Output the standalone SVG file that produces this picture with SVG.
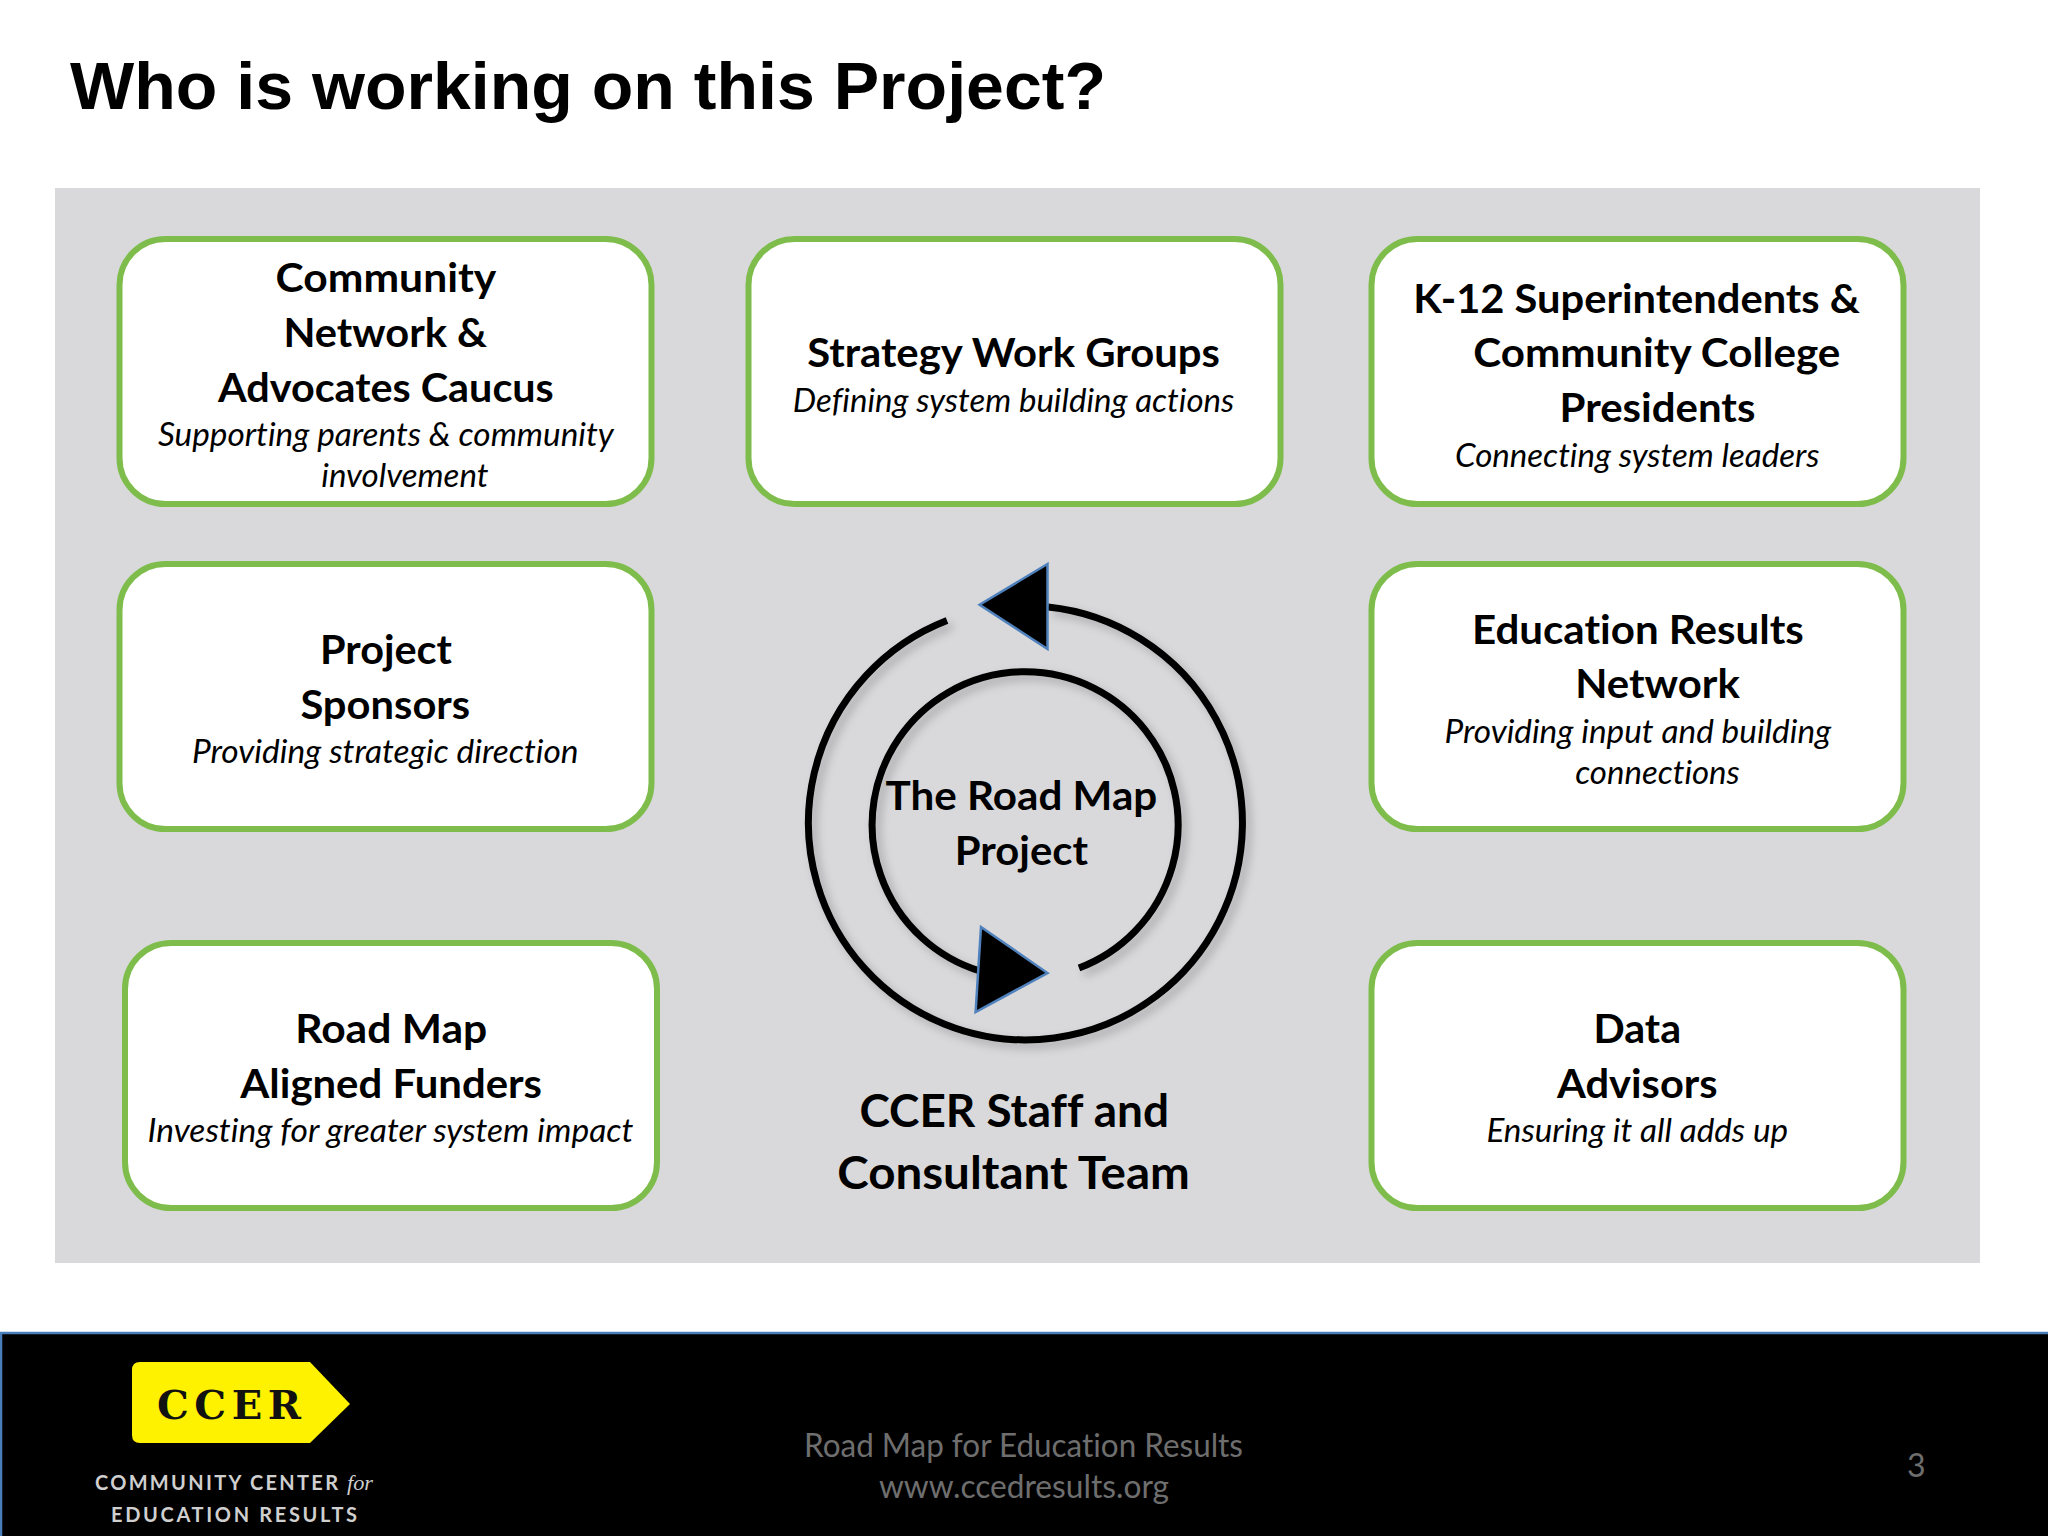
<svg xmlns="http://www.w3.org/2000/svg" width="2048" height="1536" viewBox="0 0 2048 1536">
<defs>
<filter id="soft" x="-10%" y="-10%" width="125%" height="125%"><feDropShadow dx="5" dy="5" stdDeviation="5" flood-color="#000" flood-opacity="0.22"/></filter>
</defs>
<style>
text{font-variant-ligatures:none}
.box{fill:#fff;stroke:#7ebd4b;stroke-width:6}
.b{font-family:"Lato","Liberation Sans",sans-serif;font-weight:700;font-size:40px;fill:#000}
.big{font-size:46px}
.i{font-family:"Lato","Liberation Sans",sans-serif;font-style:italic;font-size:32px;fill:#000}
.arc{fill:none;stroke:#000;stroke-width:7}
.tri{fill:#000;stroke:#4f81bd;stroke-width:2.5;stroke-linejoin:miter}
.foot{font-family:"Lato","Liberation Sans",sans-serif;font-size:32px;fill:#6e6e6e}
.logo{font-family:"Lato","Liberation Sans",sans-serif;font-weight:700;font-size:20px;fill:#cfcfcf}
</style>
<rect width="2048" height="1536" fill="#fff"/>
<text x="70" y="109" textLength="1036" lengthAdjust="spacingAndGlyphs" font-family="Liberation Sans, Arial, sans-serif" font-weight="700" font-size="67" fill="#000">Who is working on this Project?</text>
<rect id="panel" x="55" y="188" width="1925" height="1075" fill="#d9d9dc"/>

<g id="node-community">
<rect class="box" x="119.5" y="239" width="532" height="265" rx="46"/>
<text class="b" x="275.6" y="292" textLength="220.7" lengthAdjust="spacingAndGlyphs">Community</text>
<text class="b" x="283.4" y="346.8" textLength="203.8" lengthAdjust="spacingAndGlyphs">Network &amp;</text>
<text class="b" x="218.1" y="401.6" textLength="335.7" lengthAdjust="spacingAndGlyphs">Advocates Caucus</text>
<text class="i" x="158" y="446.4" textLength="455.8" lengthAdjust="spacingAndGlyphs">Supporting parents &amp; community</text>
<text class="i" x="321.3" y="487.2" textLength="167.2" lengthAdjust="spacingAndGlyphs">involvement</text>
</g>
<g id="node-strategy">
<rect class="box" x="748.5" y="239" width="532" height="265" rx="46"/>
<text class="b" x="807.2" y="367.3" textLength="412.7" lengthAdjust="spacingAndGlyphs">Strategy Work Groups</text>
<text class="i" x="792.8" y="412.4" textLength="441.5" lengthAdjust="spacingAndGlyphs">Defining system building actions</text>
</g>
<g id="node-k12">
<rect class="box" x="1371.5" y="239" width="532" height="265" rx="46"/>
<text class="b" x="1413.2" y="312.5" textLength="446.7" lengthAdjust="spacingAndGlyphs">K-12 Superintendents &amp;</text>
<text class="b" x="1473.3" y="367.3" textLength="367" lengthAdjust="spacingAndGlyphs">Community College</text>
<text class="b" x="1559.5" y="422.2" textLength="195.9" lengthAdjust="spacingAndGlyphs">Presidents</text>
<text class="i" x="1455" y="467" textLength="364.4" lengthAdjust="spacingAndGlyphs">Connecting system leaders</text>
</g>
<g id="node-sponsors">
<rect class="box" x="119.5" y="564" width="532" height="265" rx="46"/>
<text class="b" x="320" y="664" textLength="131.9" lengthAdjust="spacingAndGlyphs">Project</text>
<text class="b" x="300.4" y="718.7" textLength="169.8" lengthAdjust="spacingAndGlyphs">Sponsors</text>
<text class="i" x="192" y="763.3" textLength="386.6" lengthAdjust="spacingAndGlyphs">Providing strategic direction</text>
</g>
<g id="node-network">
<rect class="box" x="1371.5" y="564" width="532" height="265" rx="46"/>
<text class="b" x="1472" y="643.5" textLength="331.8" lengthAdjust="spacingAndGlyphs">Education Results</text>
<text class="b" x="1575.2" y="698" textLength="164.6" lengthAdjust="spacingAndGlyphs">Network</text>
<text class="i" x="1444.6" y="743.2" textLength="386.6" lengthAdjust="spacingAndGlyphs">Providing input and building</text>
<text class="i" x="1575.2" y="783.7" textLength="164.6" lengthAdjust="spacingAndGlyphs">connections</text>
</g>
<g id="node-funders">
<rect class="box" x="125" y="943" width="532" height="265" rx="46"/>
<text class="b" x="295.2" y="1043.2" textLength="192" lengthAdjust="spacingAndGlyphs">Road Map</text>
<text class="b" x="240.3" y="1098" textLength="301.7" lengthAdjust="spacingAndGlyphs">Aligned Funders</text>
<text class="i" x="147.6" y="1141.5" textLength="485.9" lengthAdjust="spacingAndGlyphs">Investing for greater system impact</text>
</g>
<g id="node-data">
<rect class="box" x="1371.5" y="943" width="532" height="265" rx="46"/>
<text class="b" x="1593.5" y="1043.2" textLength="87.5" lengthAdjust="spacingAndGlyphs">Data</text>
<text class="b" x="1556.9" y="1098" textLength="160.7" lengthAdjust="spacingAndGlyphs">Advisors</text>
<text class="i" x="1486.4" y="1141.5" textLength="301.7" lengthAdjust="spacingAndGlyphs">Ensuring it all adds up</text>
</g>

<g id="connectors">
<path class="arc" filter="url(#soft)" d="M947 620.5 A217 217 0 1 0 1048 607"/>
<path class="arc" filter="url(#soft)" d="M1079 968 A153 153 0 1 0 980 971"/>
<polygon class="tri" points="1047.5,564 979.6,604.7 1047.5,649"/>
<polygon class="tri" points="981,927 1047.5,973 975.6,1012"/>
</g>
<g id="node-roadmap">
<text class="b" x="885.6" y="809.8" textLength="271.7" lengthAdjust="spacingAndGlyphs">The Road Map</text>
<text class="b" x="954.8" y="864.6" textLength="133.2" lengthAdjust="spacingAndGlyphs">Project</text>
</g>
<g id="node-team">
<text class="b big" x="859.4" y="1127.2" textLength="309.6" lengthAdjust="spacingAndGlyphs">CCER Staff and</text>
<text class="b big" x="837.2" y="1188.6" textLength="352.7" lengthAdjust="spacingAndGlyphs">Consultant Team</text>
</g>

<g id="footer">
<rect x="1" y="1333" width="2060" height="210" fill="#000" stroke="#4a7ebb" stroke-width="2.5"/>
<path d="M140 1362 H310 L350 1404 L310 1443 H140 Q132 1443 132 1435 V1370 Q132 1362 140 1362Z" fill="#fff200"/>
<text x="157" y="1419" textLength="144" lengthAdjust="spacing" font-family="'DejaVu Serif', serif" font-weight="700" font-size="40" fill="#111">CCER</text>
<text class="logo" x="95" y="1490" textLength="243" lengthAdjust="spacing">COMMUNITY CENTER</text>
<text x="347" y="1490" textLength="26" lengthAdjust="spacingAndGlyphs" font-family="Liberation Serif, serif" font-style="italic" font-size="22" fill="#cfcfcf">for</text>
<text class="logo" x="111" y="1522" textLength="246" lengthAdjust="spacing">EDUCATION RESULTS</text>
<text class="foot" x="804" y="1457" textLength="439" lengthAdjust="spacingAndGlyphs">Road Map for Education Results</text>
<text class="foot" x="879" y="1498" textLength="290" lengthAdjust="spacingAndGlyphs">www.ccedresults.org</text>
<text class="foot" x="1907" y="1477">3</text>
</g>
</svg>
